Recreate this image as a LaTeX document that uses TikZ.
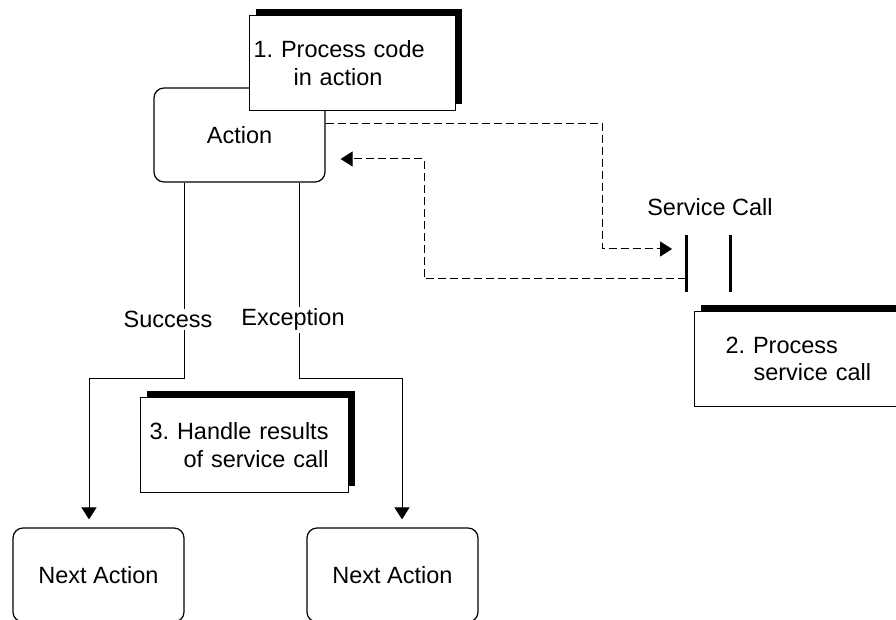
\documentclass[tikz,border=0pt]{standalone}
\usepackage{fontspec}
\setmainfont{Liberation Sans}
\frenchspacing
\usetikzlibrary{positioning,shadows,arrows.meta}
\tikzset{
    actionbox/.style={
        draw,
        rounded corners=5pt,
        minimum width=85.5pt,
        minimum height=47pt,
        line width=0.6pt
    },
    notebox/.style={
        draw,
        fill=white,
        line width=0.6pt,
        minimum height=47.5pt,
        align=left,
        anchor=north west,
        inner ysep=0pt,
        general shadow={fill=black, shadow xshift=3pt, shadow yshift=3.5pt}
    },
    bar/.style={
        fill=black,
        inner sep=0pt,
        minimum width=1.5pt,
        minimum height=28.5pt
    },
    flow/.style={
        -{Triangle[length=6pt,width=7.5pt]},
        line width=0.5pt,
        shorten >=4pt
    },
    call/.style={
        flow,
        dash pattern=on 4pt off 2pt,
        shorten >=6pt
    },
    lbl/.style={
        fill=white,
        inner sep=1pt
    }
}

\begin{document}
\begin{tikzpicture}[x=0.5pt, y=-0.5pt, font=\fontsize{11.75}{13.75}\selectfont]

    \clip (0,0) rectangle (896,620);

    \node[actionbox] (action) at (239.5,135) {Action};
    \node[notebox, text width=99pt, inner xsep=2pt] (code) at (249,15) {1. Process code\\\hspace*{20pt}in action};

    \node[actionbox] (next1) at (98.5,575) {Next Action};
    \node[actionbox] (next2) at (392.5,575) {Next Action};
    \node[notebox, text width=95pt, inner xsep=4.5pt] (handle) at (140,397) {3. Handle results\\\hspace*{17pt}of service call};

    \node[bar] (callin) at (686,263.5) {};
    \node[bar, right=20.5pt of callin] (callout) {};
    \node (calllbl) at (710,207) {Service Call};
    \node[notebox, text width=77pt, inner xsep=15.5pt] (serve) at (694,311) {2. Process\\\hspace*{14pt}service call};

    \draw[flow] ([xshift=-27.75pt]action.south) -- ++(0,196) node[lbl, pos=0.7, xshift=-8pt] (ok) {Success} -| ([xshift=-4.75pt]next1.north);
    \draw[flow] ([xshift=29.75pt]action.south) -- ++(0,196) node[lbl, pos=0.7, xshift=-3pt] (fail) {Exception} -| ([xshift=4.75pt]next2.north);

    \draw[call] ([yshift=5.5pt]action.east) -- ++(277,0) |- ([yshift=7.25pt]callin.west);
    \draw[call, shorten >=7.5pt] ([yshift=-7.75pt]callin.center) -- ++(-262,0) |- ([yshift=-12pt]action.east);

\end{tikzpicture}
\end{document}
